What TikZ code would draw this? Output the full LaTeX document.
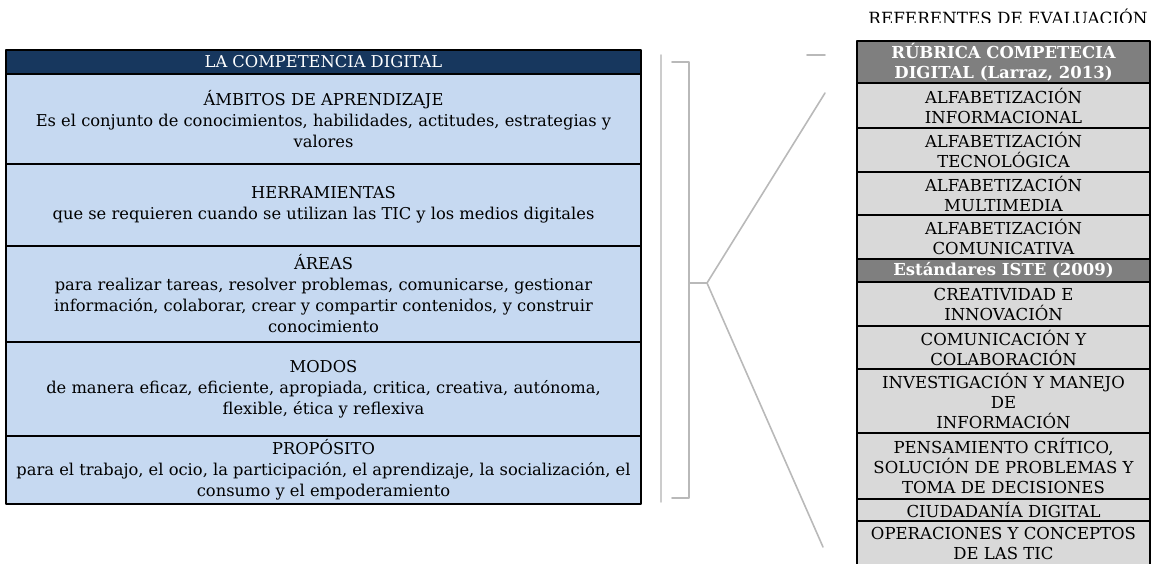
\documentclass[tikz,border=0pt]{standalone}
\usepackage{fontspec}
\setmainfont{DejaVu Serif}
\definecolor{navy}{HTML}{17375E}
\definecolor{celeste}{HTML}{C6D9F1}
\definecolor{gris}{HTML}{7F7F7F}
\definecolor{grisclaro}{HTML}{D9D9D9}
\begin{document}
\begin{tikzpicture}[x=1pt,y=-1pt,line join=round,line cap=round,
  cell/.style={draw=black,line width=1.8pt,inner sep=0pt,outer sep=0pt,anchor=north west,align=center},
  lcell/.style={cell,fill=celeste,minimum width=635pt,font=\fontsize{16.3}{21}\selectfont},
  lhead/.style={lcell,fill=navy,text=white},
  rcell/.style={cell,fill=grisclaro,minimum width=293pt,font=\fontsize{16.5}{20}\selectfont},
  rhead/.style={rcell,fill=gris,text=white,font=\fontsize{16.5}{20}\selectfont\bfseries},
  enlace/.style={draw=gray!55,line width=1.6pt}]
\useasboundingbox (0,0) rectangle (1155,564);
% tabla izquierda
\node[lhead,minimum height=24pt] (titulo) at (6,50) {LA COMPETENCIA DIGITAL};
\node[lcell,minimum height=90pt] (ambitos) at (titulo.south west) {ÁMBITOS DE APRENDIZAJE\\Es el conjunto de conocimientos, habilidades, actitudes, estrategias y\\valores};
\node[lcell,minimum height=82pt] (herram) at (ambitos.south west) {HERRAMIENTAS\\que se requieren cuando se utilizan las TIC y los medios digitales};
\node[lcell,minimum height=96pt] (areas) at (herram.south west) {ÁREAS\\para realizar tareas, resolver problemas, comunicarse, gestionar\\información, colaborar, crear y compartir contenidos, y construir\\conocimiento};
\node[lcell,minimum height=94pt] (modos) at (areas.south west) {MODOS\\de manera eficaz, eficiente, apropiada, critica, creativa, autónoma,\\flexible, ética y reflexiva};
\node[lcell,minimum height=68pt] (proposito) at (modos.south west) {PROPÓSITO\\para el trabajo, el ocio, la participación, el aprendizaje, la socialización, el\\consumo y el empoderamiento};
% llave
\coordinate (llave) at (707,283);
\coordinate (arriba) at (825,93);
\coordinate (abajo) at (823,547);
\draw[enlace,draw=gray!40] (661,55)--(661,502);
\draw[enlace] (672,62)--(689,62)--(689,498)--(672,498) (689,283)--(llave) (807,55)--(825,55);
\draw[enlace] (arriba)--(llave)--(abajo);
% tabla derecha
\begin{scope}
\clip (850,0) rectangle (1155,22.5);
\node[anchor=base,font=\fontsize{16.8}{20}\selectfont] (referentes) at (1008,25) {REFERENTES DE EVALUACIÓN};
\end{scope}
\node[rhead,minimum height=42pt] (rubrica) at (857,41) {RÚBRICA COMPETECIA\\DIGITAL (Larraz, 2013)};
\node[rcell,minimum height=45pt] (inform) at (rubrica.south west) {ALFABETIZACIÓN\\INFORMACIONAL};
\node[rcell,minimum height=44pt] (tecno) at (inform.south west) {ALFABETIZACIÓN\\TECNOLÓGICA};
\node[rcell,minimum height=43pt] (multi) at (tecno.south west) {ALFABETIZACIÓN\\MULTIMEDIA};
\node[rcell,minimum height=44pt] (comunic) at (multi.south west) {ALFABETIZACIÓN\\COMUNICATIVA};
\node[rhead,minimum height=23pt] (iste) at (comunic.south west) {Estándares ISTE (2009)};
\node[rcell,minimum height=44pt] (creat) at (iste.south west) {CREATIVIDAD E\\INNOVACIÓN};
\node[rcell,minimum height=43pt] (colab) at (creat.south west) {COMUNICACIÓN Y\\COLABORACIÓN};
\node[rcell,minimum height=64pt] (invest) at (colab.south west) {INVESTIGACIÓN Y MANEJO\\DE\\INFORMACIÓN};
\node[rcell,minimum height=66pt] (pensam) at (invest.south west) {PENSAMIENTO CRÍTICO,\\SOLUCIÓN DE PROBLEMAS Y\\TOMA DE DECISIONES};
\node[rcell,minimum height=22pt] (ciudad) at (pensam.south west) {CIUDADANÍA DIGITAL};
\node[rcell,minimum height=44pt] (operac) at (ciudad.south west) {OPERACIONES Y CONCEPTOS\\DE LAS TIC};
\end{tikzpicture}
\end{document}
